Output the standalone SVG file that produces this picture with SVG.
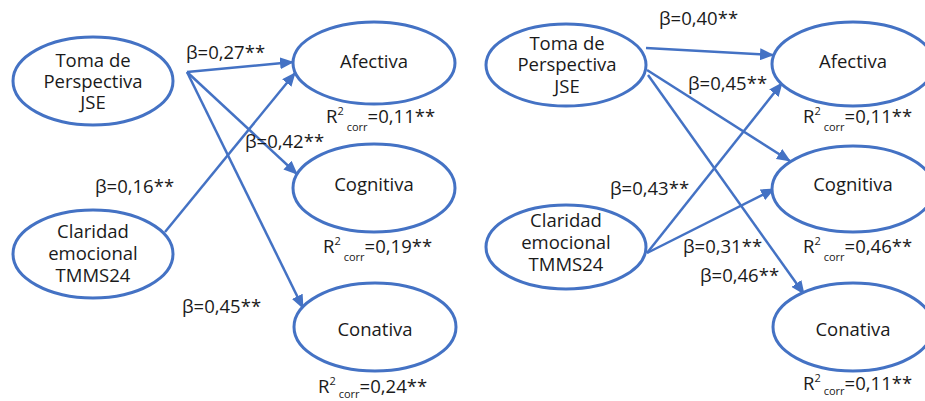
<svg xmlns="http://www.w3.org/2000/svg" width="925" height="401" viewBox="0 0 925 401">
<style>
.n{fill:#fff;stroke:#4472C4;stroke-width:3}
.e{stroke:#4472C4;stroke-width:2.5;fill:none;marker-end:url(#ah)}
text{font-family:"Open Sans","DejaVu Sans",sans-serif;font-size:18.5px;fill:#1a1a1a}
.c{text-anchor:middle}
.s{font-size:11px}
</style>
<defs>
<marker id="ah" markerUnits="userSpaceOnUse" markerWidth="14" markerHeight="12" refX="13" refY="6" orient="auto"><path d="M0,0 L14,6 L0,12 z" fill="#4472C4"/></marker>
</defs>
<rect width="925" height="401" fill="#fff"/>
<g id="connectors">
<line class="e" x1="187" y1="72" x2="293" y2="62"/>
<line class="e" x1="187" y1="72" x2="297" y2="174"/>
<line class="e" x1="187" y1="72" x2="303" y2="308"/>
<line class="e" x1="165" y1="232" x2="295" y2="73"/>
<line class="e" x1="646" y1="48" x2="773" y2="55"/>
<line class="e" x1="647" y1="70" x2="790" y2="161"/>
<line class="e" x1="648" y1="75" x2="804" y2="294"/>
<line class="e" x1="647" y1="253" x2="782" y2="83"/>
<line class="e" x1="647" y1="253" x2="774" y2="189"/>
</g>
<g id="L_toma"><ellipse class="n" cx="93" cy="81" rx="80" ry="44"/><text class="c" x="93" y="67">Toma de</text><text class="c" x="93" y="88">Perspectiva</text><text class="c" x="93" y="109">JSE</text></g>
<g id="L_claridad"><ellipse class="n" cx="93" cy="254" rx="80" ry="44"/><text class="c" x="93" y="238">Claridad</text><text class="c" x="93" y="260">emocional</text><text class="c" x="93" y="282">TMMS24</text></g>
<g id="L_afectiva"><ellipse class="n" cx="374" cy="63" rx="81" ry="41"/><text class="c" x="374" y="68">Afectiva</text></g>
<g id="L_cognitiva"><ellipse class="n" cx="374" cy="188" rx="81" ry="44"/><text class="c" x="374" y="191">Cognitiva</text></g>
<g id="L_conativa"><ellipse class="n" cx="375" cy="327" rx="81" ry="44"/><text class="c" x="375" y="336">Conativa</text></g>
<g id="R_toma"><ellipse class="n" cx="566" cy="65" rx="80" ry="41"/><text class="c" x="567" y="50">Toma de</text><text class="c" x="567" y="71">Perspectiva</text><text class="c" x="567" y="93">JSE</text></g>
<g id="R_claridad"><ellipse class="n" cx="566" cy="247" rx="80" ry="42"/><text class="c" x="566" y="227">Claridad</text><text class="c" x="566" y="249">emocional</text><text class="c" x="566" y="271">TMMS24</text></g>
<g id="R_afectiva"><ellipse class="n" cx="853" cy="64" rx="81" ry="42"/><text class="c" x="853" y="68">Afectiva</text></g>
<g id="R_cognitiva"><ellipse class="n" cx="853" cy="189" rx="81" ry="43"/><text class="c" x="853" y="191">Cognitiva</text></g>
<g id="R_conativa"><ellipse class="n" cx="853" cy="327" rx="80" ry="44"/><text class="c" x="853" y="336">Conativa</text></g>
<g id="labels">
<text x="186" y="59">β=0,27**</text>
<text x="245" y="148">β=0,42**</text>
<text x="95" y="193">β=0,16**</text>
<text x="182" y="313">β=0,45**</text>
<text x="326" y="123">R<tspan class="s" dy="-8">2</tspan><tspan class="s" dx="3" dy="16">corr</tspan><tspan dy="-8">=0,11**</tspan></text>
<text x="323" y="253">R<tspan class="s" dy="-8">2</tspan><tspan class="s" dx="3" dy="16">corr</tspan><tspan dy="-8">=0,19**</tspan></text>
<text x="318" y="393">R<tspan class="s" dy="-8">2</tspan><tspan class="s" dx="3" dy="13">corr</tspan><tspan dy="-5">=0,24**</tspan></text>
<text x="659" y="25">β=0,40**</text>
<text x="688" y="90">β=0,45**</text>
<text x="610" y="195">β=0,43**</text>
<text x="683" y="253">β=0,31**</text>
<text x="700" y="282">β=0,46**</text>
<text x="803" y="123">R<tspan class="s" dy="-8">2</tspan><tspan class="s" dx="3" dy="16">corr</tspan><tspan dy="-8">=0,11**</tspan></text>
<text x="803" y="253">R<tspan class="s" dy="-8">2</tspan><tspan class="s" dx="3" dy="16">corr</tspan><tspan dy="-8">=0,46**</tspan></text>
<text x="803" y="390">R<tspan class="s" dy="-8">2</tspan><tspan class="s" dx="3" dy="13">corr</tspan><tspan dy="-5">=0,11**</tspan></text>
</g>
</svg>
